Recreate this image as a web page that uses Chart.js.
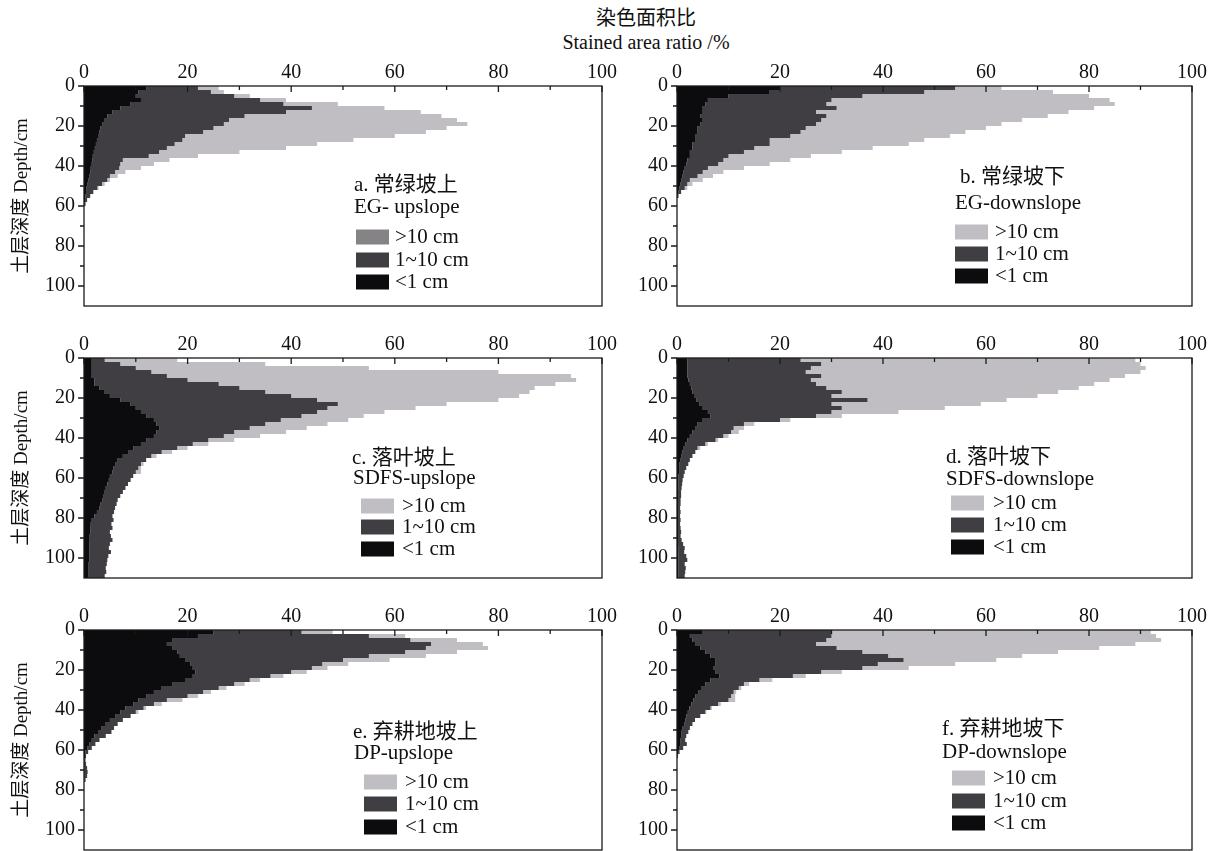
<!DOCTYPE html>
<html>
<head>
<meta charset="utf-8">
<script src="https://cdn.jsdelivr.net/npm/chart.js@4.4.1/dist/chart.umd.min.js"></script>
<style>
html, body { margin: 0; padding: 0; background: #fff; overflow: hidden; width: 1218px; height: 851px; }
canvas { position: absolute; }
#title {
    position: absolute; left: 446px; top: 6px; width: 400px; text-align: center;
    font-family: "Liberation Serif", "Noto Sans CJK SC", serif; font-size: 20px; line-height: 24px; color: #111;
}
</style>
</head>
<body>
<div id="title">染色面积比<br>Stained area ratio /%</div>
<canvas id="a" width="618" height="274" style="left:0;top:56px"></canvas>
<canvas id="b" width="590" height="274" style="left:618px;top:56px"></canvas>
<canvas id="c" width="618" height="274" style="left:0;top:328px"></canvas>
<canvas id="d" width="590" height="274" style="left:618px;top:328px"></canvas>
<canvas id="e" width="618" height="274" style="left:0;top:600px"></canvas>
<canvas id="f" width="590" height="274" style="left:618px;top:600px"></canvas>
<script>
// depth of each 2 cm layer (centre, cm)
const depths = [1, 3, 5, 7, 9, 11, 13, 15, 17, 19, 21, 23, 25, 27, 29, 31, 33, 35, 37, 39,
    41, 43, 45, 47, 49, 51, 53, 55, 57, 59, 61, 63, 65, 67, 69, 71, 73, 75, 77, 79,
    81, 83, 85, 87, 89, 91, 93, 95, 97, 99, 101, 103, 105, 107, 109];
const classes = ['>10 cm', '1~10 cm', '<1 cm'];
const xTicks = [0, 20, 40, 60, 80, 100];
const yTicks = [0, 20, 40, 60, 80, 100];

// stained area ratio (%) per layer; layers not listed are 0
// a. 常绿坡上
const fineA = [12, 10.5, 10, 11, 9, 7, 5.5, 4.5, 4, 3.5, 3.2, 3, 2.7, 2.5, 2.3, 2.1, 1.9, 1.7, 1.6, 1.5,
    1.3, 1.2, 1, 0.8, 0.7, 0.5, 0.4, 0.3, 0.2, 0.1];
const midA = [10, 14, 19, 23, 29.5, 37, 33.5, 26.5, 24, 23.5, 21.8, 20, 16.8, 16.5, 15.2, 13.9, 12.6, 10.8, 5.9, 5.5,
    5.5, 4.8, 4, 3.7, 2.8, 2.1, 1.4, 0.9, 0.4, 0.2];
const coarseA = [4, 2.5, 3, 5, 10.5, 14, 26, 38, 44, 47, 45, 43, 40.5, 33, 27.5, 23, 15.5, 9.5, 9, 6.5,
    4.2, 2, 1.5, 0.5, 0.5, 0.2, 0];

// b. 常绿坡下
const fineB = [20, 18, 10, 6, 5.5, 5, 5, 4.5, 5, 4.5, 4, 4, 3.5, 3.5, 3, 3, 2.5, 2.5, 2, 1.8,
    1.5, 1.2, 1, 0.9, 0.7, 0.5, 0.3, 0];
const midB = [34, 30, 26, 24, 23.5, 26, 22, 24.5, 23, 22.5, 21, 20, 18.5, 14.5, 15, 12, 10.5, 7.5, 7, 6.2,
    4.5, 3.8, 3, 1.6, 1.3, 1, 0.5, 0.3];
const coarseB = [9, 25, 44, 54, 56, 50, 49, 43, 39, 36, 35, 32, 31, 30, 27, 23, 19, 16, 13, 10,
    7, 4, 3, 2.5, 1, 0.5, 0, 0];

// c. 落叶坡上
const fineC = [1.5, 1.5, 1.5, 1.5, 1.5, 2, 2, 3, 4, 5, 7, 9, 10, 11, 12, 13.5, 14, 14.5, 14, 13.5,
    12, 11, 9.5, 8.5, 7.5, 6.5, 6, 5.7, 5.5, 5, 4.8, 4.5, 4.2, 4, 3.8, 3.5, 3.2, 3, 2.5, 2,
    1.5, 1.3, 1.2, 1.2, 1.1, 1.1, 1, 1, 1, 1, 1, 0.9, 0.9, 0.9, 0.9];
const midC = [2.5, 5.5, 8.5, 11.5, 14.5, 18, 24, 27, 31, 35, 38, 40, 37, 34, 30, 24.5, 21, 17.5, 15, 13.5,
    12, 10, 8.5, 6.5, 5.5, 5.5, 5, 4.8, 4.5, 4.5, 4.2, 4, 3.8, 3.5, 3.2, 3, 3.1, 3, 3.3, 3.5,
    4.2, 4, 4.3, 3.8, 4.1, 4.4, 4, 3.8, 4.2, 3.7, 3.5, 3.5, 3.3, 3.4, 3.1];
const coarseC = [14, 28, 45, 67, 78, 75, 65, 57, 51, 44, 35, 21, 17, 13, 12, 13, 12, 11, 10, 7,
    5, 3, 2, 2, 1, 0, 0.5, 0.5, 1];

// d. 落叶坡下
const fineD = [2, 2, 2, 2, 2, 2.2, 2.5, 2.8, 3, 3.3, 3.8, 4.3, 5, 6, 6.5, 5, 4, 3.5, 3, 2.5,
    2, 1.6, 1.3, 1, 0.8, 0.6, 0.5, 0.4, 0.4, 0.3, 0.3, 0.3, 0.3, 0.2, 0.2, 0.2, 0.2, 0.2, 0.2, 0.2,
    0.2, 0.2, 0.2, 0.2, 0.2, 0.2, 0.2, 0.3, 0.3, 0.3, 0.3, 0.3, 0.3, 0.3, 0.3];
const midD = [22, 26, 24, 23, 26, 23.8, 24.5, 26.2, 29, 26.7, 33.2, 25.7, 27, 24, 20.5, 15, 9, 7.5, 7.5, 6.5,
    5.5, 3.9, 2.7, 2.5, 2.2, 1.9, 1.7, 1.4, 1.1, 1, 0.8, 0.7, 0.6, 0.6, 0.6, 0.5, 0.5, 0.4, 0.5, 0.4,
    0.5, 0.4, 0.5, 0.6, 0.5, 0.7, 1, 1.2, 1.1, 1.5, 1.7, 1.2, 1.4, 1.3, 1.2];
const coarseD = [65, 62, 65, 65, 59, 58, 54, 49, 42, 40, 27, 29, 20, 13, 5, 2, 2, 2, 1.5, 1,
    0.5, 0.5, 0.5, 0.2, 0];

// e. 弃耕地坡上
const fineE = [25, 22, 17, 16, 17, 18, 18.5, 19.5, 20.5, 21, 21.5, 21, 19.5, 17, 15, 13.5, 12, 10.5, 9.5, 8,
    7, 6, 5, 4.2, 3.4, 2.7, 2, 1.5, 1, 0.6, 0.3, 0.2, 0.1, 0.1, 0.1, 0.1, 0.1, 0.1];
const midE = [17, 33, 46, 51, 49, 44, 36.5, 30.5, 25.5, 23, 18.5, 15, 12.5, 12, 11, 9.5, 8, 5.5, 4, 3.5,
    3, 3, 2.5, 2.3, 2.4, 2.6, 2.2, 1.5, 1.2, 0.9, 0.5, 0.2, 0.2, 0.3, 0.5, 0.6, 0.5, 0.2];
const coarseE = [6, 7, 9, 10, 12, 10, 11, 9, 5, 3, 3, 2.5, 2, 2, 1.5, 1.5, 2, 3, 1.5, 0.5,
    0.5, 0];

// f. 弃耕地坡下
const fineF = [5, 2.5, 3, 3.5, 4.5, 5.5, 6.5, 7.5, 7.5, 7, 7.5, 8.2, 6.5, 5.5, 4.8, 4.2, 3.6, 3.2, 2.8, 2.4,
    2.1, 1.8, 1.6, 1.4, 1.1, 0.9, 0.8, 0.7, 0.6, 0.4, 0.2, 0.1];
const midF = [25, 27.5, 26, 23.5, 26.5, 30.5, 34.5, 36.5, 31.5, 29, 20.5, 14.3, 9.5, 7.5, 7.2, 6.8, 6.9, 6.8, 5.2, 4.1,
    3.4, 2.7, 1.9, 1.6, 1.4, 1.3, 1, 0.9, 1.3, 0.8, 0.3, 0.1];
const coarseF = [62, 63, 65, 62, 51, 38, 26, 18, 15, 9, 4, 2.5, 2.5, 1, 0.5, 0.5, 0.8, 1.3, 0.5, 0.3,
    0.2, 0.1];

const FONT = '"Liberation Serif", "Noto Sans CJK SC", serif';
const COLOR_FINE = '#0c0b0d';
const COLOR_MID = '#403e42';
const COLOR_COARSE = '#c0bec2';

// Cada painel: dados + posição do texto/legenda (px a partir do canto da área do gráfico)
const panels = [
    { id: 'a', fine: fineA, mid: midA, coarse: coarseA, name: 'a. 常绿坡上', site: 'EG- upslope',
      left: true, swatch: '#858385', nameX: 270, siteX: 270, nameY: 99, siteY: 121, keyX: 272, keyY: [151, 174, 196], labelX: 311 },
    { id: 'b', fine: fineB, mid: midB, coarse: coarseB, name: 'b. 常绿坡下', site: 'EG-downslope',
      left: false, nameX: 283, siteX: 278, nameY: 91, siteY: 117, keyX: 278, keyY: [146, 168, 190], labelX: 318 },
    { id: 'c', fine: fineC, mid: midC, coarse: coarseC, name: 'c. 落叶坡上', site: 'SDFS-upslope',
      left: true, nameX: 268, siteX: 269, nameY: 100, siteY: 120, keyX: 277, keyY: [148, 169, 191], labelX: 318 },
    { id: 'd', fine: fineD, mid: midD, coarse: coarseD, name: 'd. 落叶坡下', site: 'SDFS-downslope',
      left: false, nameX: 269, siteX: 269, nameY: 99, siteY: 121, keyX: 274, keyY: [145, 167, 189], labelX: 316 },
    { id: 'e', fine: fineE, mid: midE, coarse: coarseE, name: 'e. 弃耕地坡上', site: 'DP-upslope',
      left: true, nameX: 269, siteX: 270, nameY: 102, siteY: 123, keyX: 280, keyY: [152, 174, 197], labelX: 321 },
    { id: 'f', fine: fineF, mid: midF, coarse: coarseF, name: 'f. 弃耕地坡下', site: 'DP-downslope',
      left: false, nameX: 265, siteX: 265, nameY: 99, siteY: 122, keyX: 275, keyY: [148, 171, 193], labelX: 316 }
];

// moldura, ticks e legenda
const frame = {
    id: 'frame',
    afterDraw(chart, args, p) {
        const { ctx, chartArea: ca, scales: { x, y } } = chart;
        ctx.save();
        ctx.strokeStyle = '#1a1a1a';
        ctx.lineWidth = 1.3;
        ctx.strokeRect(ca.left, ca.top, ca.right - ca.left, ca.bottom - ca.top);
        ctx.beginPath();
        x.ticks.forEach((t) => {
            const px = x.getPixelForValue(t.value);
            const len = t.value % 20 === 0 ? 6 : 4;
            ctx.moveTo(px, ca.top);
            ctx.lineTo(px, ca.top + len);
        });
        y.ticks.forEach((t) => {
            if (t.value > 100) return;
            const py = y.getPixelForValue(t.value);
            const len = t.value % 20 === 0 ? 6 : 4;
            ctx.moveTo(ca.left, py);
            ctx.lineTo(ca.left - len, py);
        });
        ctx.stroke();

        ctx.font = '21px ' + FONT;
        ctx.textBaseline = 'middle';
        ctx.textAlign = 'left';
        ctx.fillStyle = '#111';
        ctx.fillText(p.name, ca.left + p.nameX, ca.top + p.nameY);
        ctx.fillText(p.site, ca.left + p.siteX, ca.top + p.siteY);
        const fills = [p.swatch || COLOR_COARSE, COLOR_MID, COLOR_FINE];
        classes.forEach((c, k) => {
            const yy = ca.top + p.keyY[k];
            ctx.fillStyle = fills[k];
            ctx.fillRect(ca.left + p.keyX, yy - 7.5, 33, 15);
            ctx.fillStyle = '#111';
            ctx.fillText(c, ca.left + p.labelX, yy);
        });
        ctx.restore();
    }
};

function toPoints(values) {
    return values.map((v, i) => ({ x: v, y: depths[i] }));
}

panels.forEach((p) => {
    new Chart(document.getElementById(p.id), {
        type: 'bar',
        data: {
            datasets: [
                { label: classes[2], data: toPoints(p.fine), backgroundColor: COLOR_FINE },
                { label: classes[1], data: toPoints(p.mid), backgroundColor: COLOR_MID },
                { label: classes[0], data: toPoints(p.coarse), backgroundColor: COLOR_COARSE }
            ]
        },
        options: {
            indexAxis: 'y',
            responsive: false,
            animation: false,
            devicePixelRatio: 1,
            events: [],
            // área do gráfico com 220 px de altura: 2 px por cm, barras em pixels inteiros
            layout: { padding: { left: 0, right: 16, top: 0, bottom: 24 } },
            datasets: { bar: { barPercentage: 1, categoryPercentage: 1, borderWidth: 0, inflateAmount: 0 } },
            plugins: { legend: { display: false }, tooltip: { enabled: false }, frame: p },
            scales: {
                x: {
                    type: 'linear', position: 'top', stacked: true, min: 0, max: 100,
                    grid: { display: false, drawTicks: false }, border: { display: false },
                    ticks: {
                        stepSize: 10, maxTicksLimit: 12, autoSkip: false, padding: 1,
                        color: '#111', font: { family: FONT, size: 20 },
                        callback: (v) => xTicks.includes(v) ? String(v) : ''
                    },
                    afterFit: (s) => { s.height = 30; }
                },
                y: {
                    type: 'linear', reverse: true, stacked: true, min: 0, max: 110, offset: false,
                    grid: { display: false, drawTicks: false, offset: false }, border: { display: false },
                    ticks: {
                        stepSize: 10, maxTicksLimit: 12, autoSkip: false, padding: 9, includeBounds: false,
                        color: '#111', font: { family: FONT, size: 20 },
                        callback: (v) => yTicks.includes(v) ? String(v) : ''
                    },
                    title: {
                        display: p.left, text: '土层深度 Depth/cm', color: '#111',
                        font: { family: FONT, size: 19 }, padding: { top: 11, bottom: 0 }
                    },
                    afterFit: (s) => { s.width = p.left ? 84 : 59; }
                }
            }
        },
        plugins: [frame]
    });
});
</script>
</body>
</html>
